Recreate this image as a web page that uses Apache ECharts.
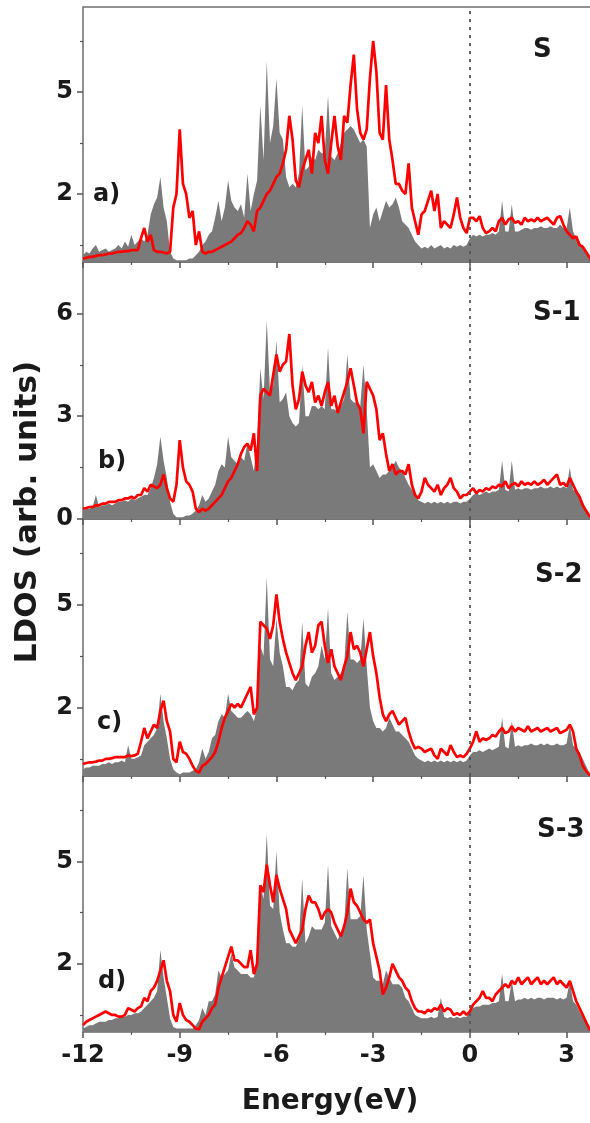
<!DOCTYPE html>
<html>
<head>
<meta charset="utf-8">
<script src="https://cdn.jsdelivr.net/npm/echarts@6/dist/echarts.min.js"></script>
<style>
  html, body { margin: 0; padding: 0; background: #fff; }
  #main { width: 590px; height: 1123px; }
</style>
</head>
<body>
<div id="main"></div>
<script>
// 能量网格: 从 -12 eV 开始, 步长 0.1 eV
var eStart = -12, eStep = 0.1;

var panelNames = ['S', 'S-1', 'S-2', 'S-3'];
var panelTags = ['a)', 'b)', 'c)', 'd)'];
var xTicks = [-12, -9, -6, -3, 0, 3];

// y 轴刻度 (a, c, d 面板 / b 面板)
var yMajorACD = [2, 5];
var yMinorACD = [0.5, 3.5, 6.5];
var yMajorB = [0, 3, 6];
var yMinorB = [1.5, 4.5];

// 灰色填充 (总 LDOS)
var grayA = [
  0.2,0.3,0.25,0.4,0.5,0.3,0.35,0.4,0.3,0.35,
  0.4,0.5,0.4,0.6,0.45,0.8,0.5,0.6,0.7,0.6,
  0.8,1.4,1.7,1.9,2.5,1.6,1.2,0.3,0.1,0.05,
  0.05,0.05,0.05,0.1,0.1,0.2,0.3,0.5,0.6,0.8,
  0.9,1.3,1.8,1.2,1.6,2.4,1.8,1.6,1.5,1.7,
  1.3,2.6,1.5,2.0,2.4,4.6,3.0,5.9,3.5,4.0,
  5.4,3.8,3.6,2.5,2.2,2.3,2.2,2.6,4.6,2.7,
  2.8,3.1,3.0,3.3,3.2,3.2,4.9,3.1,3.0,3.2,
  3.5,3.8,3.9,4.0,3.9,3.7,3.5,3.6,3.4,1.0,
  1.4,1.6,1.2,1.5,1.8,1.6,1.7,1.9,1.6,1.2,
  1.1,1.0,0.8,0.6,0.5,0.4,0.45,0.4,0.5,0.4,
  0.45,0.5,0.4,0.45,0.4,0.5,0.45,0.5,0.45,0.5,
  0.7,0.8,0.75,0.8,0.75,0.8,0.8,0.85,0.8,0.9,
  1.8,0.9,0.9,1.7,0.9,0.9,0.95,1.0,1.0,0.95,
  1.0,1.0,1.05,1.0,1.0,1.05,1.0,1.0,1.1,1.0,
  1.0,1.6,0.9,0.7,0.6,0.4,0.25,0.1,0
];
var grayB = [
  0.25,0.3,0.3,0.35,0.7,0.35,0.4,0.4,0.45,0.4,
  0.45,0.5,0.5,0.55,0.5,0.6,0.55,0.6,0.65,0.7,
  0.7,0.9,1.2,1.6,2.4,1.7,1.2,0.5,0.15,0.05,
  0.05,0.05,0.1,0.1,0.15,0.25,0.4,0.7,0.5,0.6,
  0.8,1.0,1.4,1.6,1.5,2.4,1.8,1.7,1.6,1.8,
  1.7,2.2,1.8,1.4,2.2,4.4,3.5,5.8,3.7,3.9,
  5.2,3.4,3.5,3.7,3.0,2.8,2.7,2.8,4.5,3.0,
  3.0,3.3,3.3,3.2,3.3,3.2,5.0,3.2,3.2,3.1,
  3.3,3.5,4.8,3.5,3.4,3.4,3.3,4.5,3.2,1.5,
  1.6,1.4,1.2,1.3,1.3,1.4,1.5,1.7,1.5,1.4,
  1.2,1.0,0.85,0.7,0.55,0.5,0.45,0.5,0.45,0.5,
  0.45,0.5,0.45,0.5,0.45,0.5,0.5,0.45,0.5,0.5,
  0.6,0.7,0.75,0.7,0.75,0.8,0.75,0.8,0.8,0.85,
  1.7,0.85,0.8,1.7,0.85,0.9,0.85,0.9,0.9,0.85,
  0.9,0.9,0.95,0.9,0.9,0.95,0.9,0.95,0.9,0.95,
  0.9,1.5,0.85,0.8,0.7,0.5,0.3,0.1,0
];
var grayC = [
  0.2,0.25,0.25,0.3,0.3,0.3,0.35,0.35,0.4,0.35,
  0.4,0.4,0.45,0.4,0.9,0.5,0.5,0.55,0.6,0.9,
  1.0,1.1,1.2,1.4,2.4,1.6,1.1,0.5,0.2,0.1,
  0.05,0.1,0.1,0.1,0.15,0.2,0.4,0.8,0.5,0.7,
  1.1,1.2,1.6,1.8,1.7,2.4,1.9,1.8,1.7,1.7,
  1.8,1.9,1.8,1.6,2.0,3.8,3.5,5.8,3.4,3.2,
  4.6,3.6,3.2,2.6,2.6,2.5,2.7,2.8,4.5,2.7,
  2.6,2.9,3.0,3.2,3.8,3.4,4.9,3.0,2.8,2.9,
  3.0,3.2,4.8,3.4,3.4,3.3,3.4,4.6,3.2,2.0,
  1.6,1.4,1.4,1.3,1.4,1.7,1.5,1.3,1.3,1.2,
  1.1,1.0,0.8,0.6,0.5,0.45,0.4,0.45,0.4,0.45,
  0.4,0.45,0.4,0.45,0.4,0.45,0.4,0.45,0.4,0.45,
  0.6,0.7,0.7,0.75,0.7,0.75,0.8,0.75,0.8,0.85,
  1.7,0.85,0.8,1.6,0.85,0.9,0.85,0.9,0.9,0.95,
  0.9,0.9,0.95,0.9,0.95,0.9,0.9,0.95,0.9,0.9,
  0.95,1.5,0.9,0.8,0.7,0.5,0.3,0.1,0
];
var grayD = [
  0.1,0.15,0.2,0.2,0.25,0.3,0.3,0.3,0.35,0.35,
  0.4,0.4,0.45,0.45,0.5,0.5,0.55,0.55,0.6,0.7,
  0.8,0.9,1.0,1.2,2.4,1.6,1.0,0.4,0.15,0.1,
  0.1,0.1,0.1,0.1,0.1,0.2,0.35,0.7,0.5,0.9,
  0.9,1.1,1.8,1.6,1.7,1.8,2.3,1.9,1.8,1.7,
  1.7,1.7,1.6,1.6,2.0,4.3,3.9,5.8,3.7,3.6,
  5.3,3.5,3.0,2.6,2.6,2.5,2.5,2.7,4.5,2.6,
  2.8,3.1,3.0,3.0,3.0,3.2,4.9,3.1,2.9,2.7,
  2.9,3.1,4.8,3.3,3.3,3.3,3.4,4.6,3.0,2.3,
  1.6,1.5,1.5,1.4,1.8,1.6,1.4,1.4,1.4,1.3,
  1.0,0.9,0.7,0.5,0.45,0.4,0.4,0.4,0.45,0.4,
  0.45,1.0,0.45,0.4,0.45,0.4,0.45,0.4,0.45,0.45,
  0.6,0.7,0.75,0.75,0.8,0.8,0.8,0.85,0.85,0.9,
  1.7,0.9,0.9,1.5,0.9,0.95,0.95,1.0,0.95,1.0,
  0.95,1.0,1.0,0.95,1.0,1.0,1.0,0.95,1.0,0.95,
  1.0,1.5,0.9,0.8,0.6,0.45,0.3,0.1,0
];

// 红线 (S 原子 LDOS)
var redA = [
  0.1,0.12,0.15,0.15,0.18,0.2,0.2,0.22,0.25,0.25,
  0.28,0.3,0.3,0.32,0.32,0.35,0.35,0.35,0.7,1.0,
  0.6,0.8,0.35,0.3,0.3,0.28,0.25,0.3,1.6,2.0,
  3.9,2.3,2.0,1.3,1.5,0.5,0.9,0.3,0.25,0.3,
  0.3,0.35,0.4,0.45,0.5,0.55,0.6,0.7,0.8,0.85,
  1.0,1.2,1.1,0.9,1.5,1.6,1.8,2.0,2.1,2.3,
  2.5,2.6,2.9,3.3,4.3,3.6,2.4,2.2,2.7,3.0,
  3.3,2.6,3.8,3.5,4.3,3.0,2.6,3.5,4.3,3.4,
  3.0,4.3,4.1,5.2,6.1,4.5,3.8,3.6,3.9,5.4,
  6.5,5.6,3.8,3.6,5.2,3.6,3.0,2.3,2.3,2.1,
  2.0,2.9,1.6,1.2,0.8,1.4,1.5,1.8,2.1,1.5,
  2.0,1.0,1.2,1.1,1.0,1.4,1.9,1.3,1.0,0.85,
  1.3,1.3,1.2,1.35,1.0,0.85,0.9,1.0,0.9,1.2,
  1.3,1.1,1.25,1.3,1.15,1.2,1.1,1.3,1.2,1.25,
  1.2,1.3,1.2,1.25,1.3,1.2,1.1,1.3,1.35,1.1,
  0.9,0.8,0.7,0.75,0.5,0.45,0.3,0.15,0
];
var redB = [
  0.3,0.32,0.35,0.35,0.4,0.4,0.45,0.45,0.5,0.5,
  0.5,0.55,0.55,0.6,0.6,0.65,0.6,0.7,0.7,0.9,
  0.8,1.0,0.95,0.9,1.0,1.3,0.9,0.6,0.5,1.0,
  2.3,1.5,1.1,1.0,0.8,0.3,0.2,0.3,0.25,0.3,
  0.4,0.5,0.6,0.7,0.9,1.1,1.2,1.4,1.6,1.9,
  2.1,2.2,2.0,2.5,1.4,3.6,3.8,3.7,3.6,4.2,
  4.8,4.3,4.5,4.6,5.4,3.9,3.2,3.5,4.3,3.9,
  3.7,4.0,3.4,3.6,3.3,3.7,4.0,3.3,3.6,3.1,
  3.4,3.7,4.0,4.4,3.9,3.4,3.2,2.5,4.0,3.8,
  3.6,3.2,2.3,2.5,1.9,1.4,1.6,1.3,1.4,1.4,
  1.3,1.6,1.0,0.7,0.6,0.8,1.2,1.0,0.9,0.8,
  1.0,0.7,0.9,1.0,1.2,0.9,0.8,0.6,0.7,0.7,
  0.8,0.9,0.75,0.85,0.8,0.9,0.85,0.95,0.9,1.0,
  0.95,1.1,0.9,1.0,1.05,0.95,1.1,1.0,1.05,1.0,
  1.1,1.0,1.05,1.15,1.0,1.1,1.2,1.3,1.0,1.05,
  0.95,1.2,1.0,0.8,0.65,0.4,0.25,0.1,0
];
var redC = [
  0.35,0.38,0.4,0.4,0.42,0.45,0.45,0.5,0.5,0.52,
  0.55,0.55,0.55,0.55,0.6,0.58,0.6,0.65,1.0,1.4,
  1.1,1.3,1.5,1.4,1.9,2.2,1.6,1.3,0.5,0.4,
  1.0,0.7,0.65,0.5,0.3,0.15,0.1,0.3,0.35,0.45,
  0.55,0.7,1.0,1.4,1.7,1.9,2.1,2.0,2.1,2.0,
  2.2,2.4,2.6,1.8,2.0,4.5,4.4,4.3,4.0,4.4,
  5.3,4.5,4.0,3.6,3.3,3.0,2.8,3.0,3.2,3.8,
  4.2,3.6,3.8,4.4,4.5,3.8,3.3,3.7,3.2,3.0,
  2.8,3.2,3.5,4.2,3.7,3.8,3.6,3.2,3.7,4.2,
  3.5,3.0,2.3,1.8,1.6,1.8,1.9,1.7,1.5,1.6,
  1.7,1.3,1.0,0.8,0.85,0.8,0.7,0.75,0.8,0.6,
  0.5,0.8,0.7,0.6,0.9,0.7,0.55,0.6,0.55,0.65,
  0.8,1.0,1.3,1.0,1.1,1.05,1.1,1.2,1.15,1.3,
  1.4,1.25,1.3,1.45,1.3,1.4,1.35,1.3,1.45,1.3,
  1.35,1.4,1.3,1.35,1.4,1.3,1.35,1.4,1.25,1.3,
  1.35,1.5,1.3,0.8,0.6,0.3,0.15,0.05,0
];
var redD = [
  0.2,0.3,0.35,0.4,0.45,0.5,0.55,0.6,0.55,0.5,
  0.5,0.45,0.45,0.5,0.7,0.65,0.6,0.7,0.75,1.0,
  0.9,1.2,1.3,1.5,1.8,2.1,1.5,1.2,0.5,0.3,
  0.85,0.5,0.35,0.3,0.2,0.1,0.08,0.3,0.4,0.5,
  0.7,0.8,1.3,1.6,1.9,2.2,2.5,2.1,2.1,2.0,
  1.9,1.9,2.4,1.7,2.0,4.3,4.1,4.9,4.3,3.8,
  4.6,4.2,3.9,3.6,3.0,2.8,2.6,2.8,3.0,3.6,
  4.0,3.8,3.8,3.6,3.3,3.5,3.6,3.5,3.2,3.0,
  2.8,3.1,3.5,4.2,3.8,3.7,3.5,3.3,3.2,3.3,
  2.6,2.2,1.8,1.1,1.3,1.6,2.0,1.8,1.6,1.5,
  1.3,1.2,0.9,0.7,0.6,0.6,0.55,0.65,0.6,0.7,
  0.65,0.8,0.6,0.7,0.65,0.5,0.55,0.5,0.6,0.5,
  0.6,0.8,0.9,1.0,1.2,1.0,1.0,0.9,1.1,1.2,
  1.3,1.4,1.3,1.5,1.4,1.6,1.4,1.5,1.6,1.4,
  1.5,1.6,1.4,1.5,1.4,1.5,1.6,1.4,1.5,1.4,
  1.3,1.5,1.2,0.9,0.7,0.5,0.3,0.1,0
];

var grays = [grayA, grayB, grayC, grayD];
var reds = [redA, redB, redC, redD];

function toPairs(vals) {
  return vals.map(function (v, i) {
    return [+(eStart + i * eStep).toFixed(1), v];
  });
}

var chart = echarts.init(document.getElementById('main'));

var FONT = 'DejaVu Sans';
var panelTop = [7, 262, 519, 776];
var panelHeight = [255, 257, 257, 256];

var grid = [], xAxis = [], yAxis = [], series = [], graphic = [];

for (var k = 0; k < 4; k++) {
  grid.push({
    left: 83, right: -4, top: panelTop[k], height: panelHeight[k],
    show: true, borderColor: '#6e6e6e', borderWidth: 1.5,
    backgroundColor: 'transparent', outerBoundsMode: 'none'
  });

  xAxis.push({
    type: 'value', gridIndex: k, min: -12, max: 3.85, interval: 3,
    position: 'bottom',
    axisLine: { show: false, onZero: false },
    axisTick: { show: true, length: 6, lineStyle: { color: '#555', width: 1.5 } },
    minorTick: { show: true, splitNumber: 2, length: 3, lineStyle: { color: '#555', width: 1.2 } },
    splitLine: { show: false },
    axisLabel: {
      show: k === 3, margin: 12, color: '#1a1a1a',
      fontFamily: FONT, fontWeight: 'bold', fontSize: 24,
      customValues: xTicks
    }
  });

  var major = k === 1 ? yMajorB : yMajorACD;
  var minor = k === 1 ? yMinorB : yMinorACD;
  // 主刻度和标签
  yAxis.push({
    type: 'value', gridIndex: k, min: 0, max: 7.5, position: 'left',
    axisLine: { show: false, onZero: false },
    axisTick: { show: true, length: 6, customValues: major, lineStyle: { color: '#555', width: 1.5 } },
    splitLine: { show: false },
    axisLabel: {
      margin: 10, color: '#1a1a1a', fontFamily: FONT, fontWeight: 'bold', fontSize: 24,
      customValues: major
    }
  });
  // 次刻度
  yAxis.push({
    type: 'value', gridIndex: k, min: 0, max: 7.5, position: 'left',
    axisLine: { show: false, onZero: false },
    axisTick: { show: true, length: 3, customValues: minor, lineStyle: { color: '#555', width: 1.2 } },
    splitLine: { show: false },
    axisLabel: { show: false }
  });

  series.push({
    type: 'line', xAxisIndex: k, yAxisIndex: 2 * k,
    data: toPairs(grays[k]), symbol: 'none',
    lineStyle: { width: 0, color: '#7a7a7a' },
    areaStyle: { color: '#7a7a7a', opacity: 1 },
    z: 2
  });
  series.push({
    type: 'line', xAxisIndex: k, yAxisIndex: 2 * k,
    data: toPairs(reds[k]), symbol: 'none',
    lineStyle: { width: 2.7, color: '#ff0000' },
    z: 4,
    markLine: {
      silent: true, symbol: ['none', 'none'], label: { show: false },
      lineStyle: { type: [3, 5], color: '#555', width: 1.8 },
      data: [{ xAxis: 0 }]
    }
  });
}

var tagPos = [[93, 195], [98, 462], [97, 723], [98, 982]];
var namePos = [[533, 50], [533, 313], [535, 575], [537, 830]];
for (var j = 0; j < 4; j++) {
  graphic.push({
    type: 'text', x: tagPos[j][0], y: tagPos[j][1], z: 10,
    style: { text: panelTags[j], fill: '#1a1a1a', font: 'bold 24px ' + FONT,
             textAlign: 'left', textVerticalAlign: 'middle' }
  });
  graphic.push({
    type: 'text', x: namePos[j][0], y: namePos[j][1], z: 10,
    style: { text: panelNames[j], fill: '#1a1a1a', font: 'bold 26px ' + FONT,
             textAlign: 'left', textVerticalAlign: 'middle' }
  });
}
graphic.push({
  type: 'text', x: 28, y: 512, rotation: Math.PI / 2, z: 10,
  style: { text: 'LDOS (arb. units)', fill: '#1a1a1a', font: 'bold 31px ' + FONT,
           textAlign: 'center', textVerticalAlign: 'middle' }
});
graphic.push({
  type: 'text', x: 330, y: 1102, z: 10,
  style: { text: 'Energy(eV)', fill: '#1a1a1a', font: 'bold 28px ' + FONT,
           textAlign: 'center', textVerticalAlign: 'middle' }
});

chart.setOption({
  animation: false,
  backgroundColor: '#fff',
  grid: grid,
  xAxis: xAxis,
  yAxis: yAxis,
  series: series,
  graphic: graphic
});
</script>
</body>
</html>
